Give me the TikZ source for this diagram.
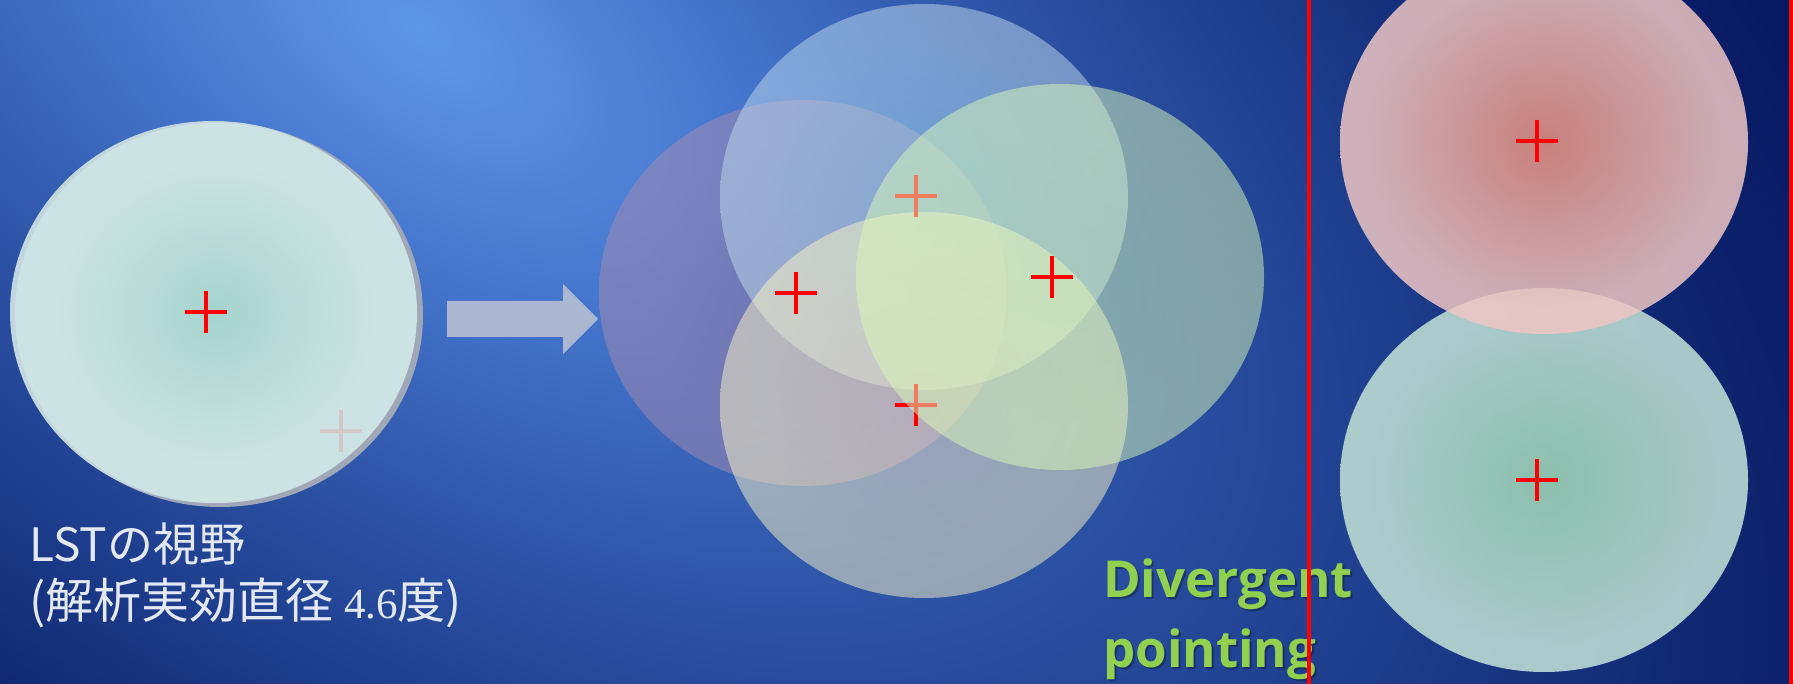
\documentclass[tikz,border=0pt]{standalone}
\usepackage{fontspec}
\newfontfamily\jpfont{Noto Sans CJK JP}
\newfontfamily\numfont{Liberation Serif}
\newfontfamily\greenfont{Open Sans}
\definecolor{bg0}{HTML}{5F97E8}
\definecolor{bg1}{HTML}{4474CC}
\definecolor{bg2}{HTML}{2C52A4}
\definecolor{bg3}{HTML}{0E2570}
\definecolor{bg4}{HTML}{04145A}
\definecolor{lstin}{HTML}{A6D3CE}
\definecolor{lstout}{HTML}{CDE3E3}
\definecolor{topin}{HTML}{98D8EE}
\definecolor{topout}{HTML}{C3DCEB}
\definecolor{leftin}{HTML}{9C7C9E}
\definecolor{leftout}{HTML}{A88CB0}
\definecolor{rightin}{HTML}{D4F6B4}
\definecolor{rightout}{HTML}{DCFAB8}
\definecolor{botin}{HTML}{F8E2C0}
\definecolor{botout}{HTML}{FDF6C4}
\definecolor{pinkin}{HTML}{E8907E}
\definecolor{pinkout}{HTML}{EEC6C4}
\definecolor{greenin}{HTML}{A1D8B5}
\definecolor{greenout}{HTML}{C4E4D8}
\definecolor{labeltext}{HTML}{E2E9F5}
\definecolor{divgreen}{HTML}{92D050}
\definecolor{arrowfill}{HTML}{ABB7D0}
\definecolor{lstshadow}{HTML}{A0A8B8}
\definecolor{lstrim}{HTML}{C2D6E0}
\pgfdeclareradialshading{bgshade}{\pgfpoint{0bp}{0bp}}{color(0bp)=(bg0); color(3.3bp)=(bg1); color(6.8bp)=(bg2); color(12.5bp)=(bg3); color(16.5bp)=(bg4); color(50bp)=(bg4)}
\pgfdeclareradialshading{lstsh}{\pgfpoint{0bp}{0bp}}{color(0bp)=(lstin); color(20bp)=(lstout); color(50bp)=(lstout)}
\pgfdeclareradialshading{topsh}{\pgfpoint{0bp}{0bp}}{color(0bp)=(topin); color(20bp)=(topout); color(50bp)=(topout)}
\pgfdeclareradialshading{leftsh}{\pgfpoint{0bp}{0bp}}{color(0bp)=(leftin); color(20bp)=(leftout); color(50bp)=(leftout)}
\pgfdeclareradialshading{rightsh}{\pgfpoint{0bp}{0bp}}{color(0bp)=(rightin); color(20bp)=(rightout); color(50bp)=(rightout)}
\pgfdeclareradialshading{botsh}{\pgfpoint{0bp}{0bp}}{color(0bp)=(botin); color(20bp)=(botout); color(50bp)=(botout)}
\pgfdeclareradialshading{pinksh}{\pgfpoint{0bp}{0bp}}{color(0bp)=(pinkin); color(22bp)=(pinkout); color(50bp)=(pinkout)}
\pgfdeclareradialshading{greensh}{\pgfpoint{0bp}{0bp}}{color(0bp)=(greenin); color(22bp)=(greenout); color(50bp)=(greenout)}
\tikzset{
  crossmark/.style={draw=red, line width=4.2pt},
  fieldcircle/.style={opacity=0.5},
  lsttext/.style={anchor=base west, inner sep=0pt, text=labeltext, font=\jpfont\fontsize{46}{57}\selectfont},
  divtext/.style={anchor=base west, inner sep=0pt, text=divgreen, font=\greenfont\bfseries\fontsize{51}{70}\selectfont},
  divshadow/.style={anchor=base west, inner sep=0pt, text=black, text opacity=0.3, font=\greenfont\bfseries\fontsize{51}{70}\selectfont},
}
\newcommand{\markcross}[3][]{\draw[crossmark,#1] (#2,#3) ++(-21,0) -- ++(42,0) (#2,#3) ++(0,-21) -- ++(0,42);}
\begin{document}
\begin{tikzpicture}[x=1pt,y=-1pt]
\useasboundingbox (0,0) rectangle (1793,684);
% background
\begin{scope}
  \clip (0,0) rectangle (1793,684);
  \fill[bg4] (0,0) rectangle (1793,684);
  \begin{scope}[transform canvas={rotate around={-35:(420,30)}}]
    \shade[shading=bgshade] (420,30) ellipse [x radius=3000pt, y radius=1600pt];
  \end{scope}
\end{scope}
% LST field of view
\fill[lstshadow] (220,315) ellipse [x radius=203pt, y radius=192pt];
\fill[lstrim] (213,312) ellipse [x radius=203pt, y radius=191pt];
\shade[shading=lstsh] (216,313) ellipse [x radius=201pt, y radius=190pt];
\markcross{206}{312}
\markcross[opacity=0.12]{341}{431}
% arrow
\fill[arrowfill] (447,301) -- (563,301) -- (563,284) -- (598,319) -- (563,354) -- (563,337) -- (447,337) -- cycle;
% four pointings
\shade[shading=leftsh, fieldcircle] (803,293) ellipse [x radius=204pt, y radius=193pt];
\shade[shading=topsh, fieldcircle] (924,197) ellipse [x radius=204pt, y radius=193pt];
\shade[shading=botsh, fieldcircle] (924,405) ellipse [x radius=204pt, y radius=193pt];
\markcross{916}{196}
\markcross{916}{405}
\shade[shading=rightsh, fieldcircle] (1060,277) ellipse [x radius=204pt, y radius=193pt];
\markcross{796}{293}
\markcross{1052}{277}
% right panel
\shade[shading=greensh, opacity=0.85] (1544,480) ellipse [x radius=204pt, y radius=192pt];
\shade[shading=pinksh, opacity=0.85] (1544,142) ellipse [x radius=204pt, y radius=192pt];
\markcross{1537}{141}
\markcross{1537}{480}
% labels
\node[lsttext] (lst1) at (29,561) {LSTの視野};
\node[lsttext, font=\jpfont\fontsize{48}{57}\selectfont] (lst2) at (29,618) {(解析実効直径 {\numfont\fontsize{43}{50}\selectfont 4.6}度)};
\node[divshadow] (div1s) at (1105,599) {Divergent};
\node[divshadow] (div2s) at (1105,669) {pointing};
\node[divtext] (div1) at (1103,597) {Divergent};
\node[divtext] (div2) at (1103,667) {pointing};
% red frame
\draw[red, line width=4.5pt] (1309,-20) rectangle (1791,704);
\end{tikzpicture}
\end{document}
